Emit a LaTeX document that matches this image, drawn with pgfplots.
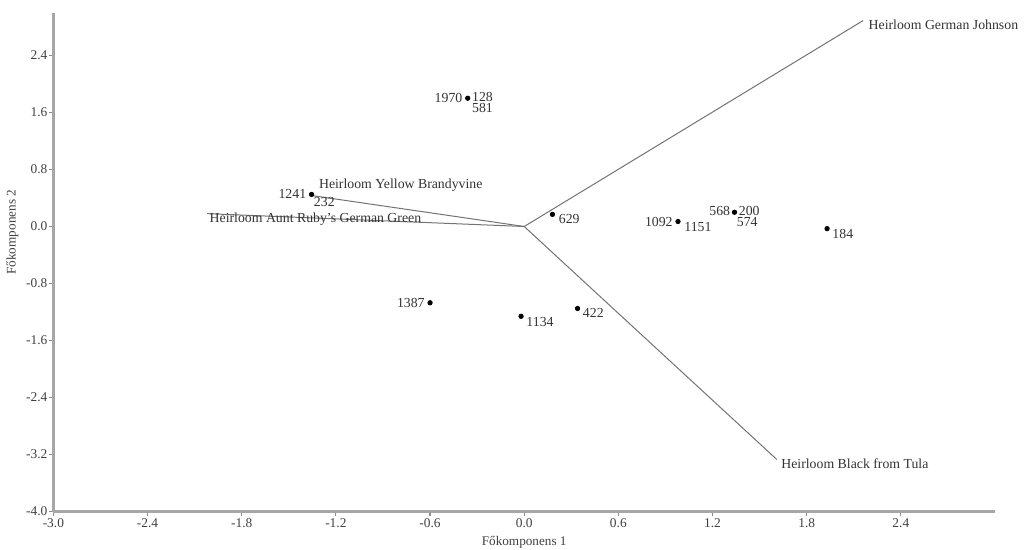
\documentclass[border=0pt]{standalone}
\usepackage{pgfplots}
\usepackage{pgfplotstable}
\pgfplotsset{compat=1.18}
\usepackage{fontspec}
\setmainfont{Liberation Serif}

\pgfplotstableread{
x y
-0.36 1.80
-1.355 0.45
0.18 0.17
0.98 0.07
1.34 0.20
1.93 -0.03
-0.60 -1.07
-0.02 -1.26
0.34 -1.15
}\pts

\begin{document}
\begin{tikzpicture}[lab/.style={inner sep=0.5pt, font=\fontsize{6.9}{8}\selectfont, text=black!80}]
\begin{axis}[
  scale only axis,
  width=470.9pt, height=249.5pt,
  xmin=-3, xmax=3.0, ymin=-4, ymax=3.0,
  axis x line=bottom, axis y line=left,
  axis line style={-, draw=black!35, line width=1.2pt},
  tick style={draw=black!45, line width=0.6pt},
  tick align=outside,
  major tick length=2pt,
  xtick={-3,-2.4,-1.8,-1.2,-0.6,0,0.6,1.2,1.8,2.4},
  ytick={-4,-3.2,-2.4,-1.6,-0.8,0,0.8,1.6,2.4},
  /pgf/number format/.cd, fixed, fixed zerofill, precision=1, assume math mode=true,
  /pgfplots/.cd,
  ticklabel style={font=\fontsize{6.7}{7}\selectfont, text=black!75},
  xticklabel style={yshift=2pt},
  yticklabel style={xshift=2.5pt},
  xlabel={Főkomponens 1},
  ylabel={Főkomponens 2},
  label style={font=\fontsize{6.6}{7}\selectfont, text=black!75},
  xlabel style={at={(axis description cs:0.5,-0.062)}, anchor=center},
  ylabel style={at={(axis description cs:-0.0435,0.56)}, anchor=center},
  clip=false,
]
\addplot[draw=black!55, line width=0.5pt] coordinates {(0,0) (2.16,2.89)}
  node[pos=1, anchor=west, xshift=2pt, yshift=-2pt, lab] {Heirloom German Johnson};
\addplot[draw=black!55, line width=0.5pt] coordinates {(0,0) (1.61,-3.27)}
  node[pos=1, anchor=west, xshift=1.5pt, yshift=-2pt, lab] {Heirloom Black from Tula};
\addplot[draw=black!55, line width=0.5pt] coordinates {(0,0) (-1.355,0.435)}
  node[pos=1, anchor=west, xshift=3pt, yshift=5pt, lab] {Heirloom Yellow Brandyvine};
\addplot[draw=black!55, line width=0.5pt] coordinates {(0,0) (-2.02,0.18)}
  node[pos=1, anchor=west, xshift=0.5pt, yshift=-3pt, lab] {Heirloom Aunt Ruby's German Green};
\addplot[only marks, mark=*, mark size=1.1pt, mark options={fill=black, draw=black}]
  table[x=x, y=y] {\pts};
\node[lab, anchor=east, xshift=-2pt] at (axis cs:-0.36,1.80) {1970};
\node[lab, anchor=west, xshift=1.5pt, yshift=0.7pt] at (axis cs:-0.36,1.80) {128};
\node[lab, anchor=west, xshift=1.5pt, yshift=-4.7pt] at (axis cs:-0.36,1.80) {581};
\node[lab, anchor=east, xshift=-2pt] at (axis cs:-1.355,0.45) {1241};
\node[lab, anchor=west, xshift=0.5pt, yshift=-4pt] at (axis cs:-1.355,0.45) {232};
\node[lab, anchor=west, xshift=2.5pt, yshift=-2.5pt] at (axis cs:0.18,0.17) {629};
\node[lab, anchor=east, xshift=-2pt] at (axis cs:0.98,0.07) {1092};
\node[lab, anchor=west, xshift=2.5pt, yshift=-3pt] at (axis cs:0.98,0.07) {1151};
\node[lab, anchor=east, xshift=-1.5pt, yshift=0.5pt] at (axis cs:1.34,0.20) {568};
\node[lab, anchor=west, xshift=1.5pt, yshift=0.7pt] at (axis cs:1.34,0.20) {200};
\node[lab, anchor=west, xshift=0.5pt, yshift=-4.7pt] at (axis cs:1.34,0.20) {574};
\node[lab, anchor=west, xshift=2pt, yshift=-2.5pt] at (axis cs:1.93,-0.03) {184};
\node[lab, anchor=east, xshift=-2pt] at (axis cs:-0.60,-1.07) {1387};
\node[lab, anchor=west, xshift=2pt, yshift=-3pt] at (axis cs:-0.02,-1.26) {1134};
\node[lab, anchor=west, xshift=2pt, yshift=-2pt] at (axis cs:0.34,-1.15) {422};
\end{axis}
\pgfresetboundingbox
\path ([shift={(-26.7pt,-19.2pt)}]current axis.south west) rectangle ([shift={(16pt,6.35pt)}]current axis.north east);
\end{tikzpicture}
\end{document}
